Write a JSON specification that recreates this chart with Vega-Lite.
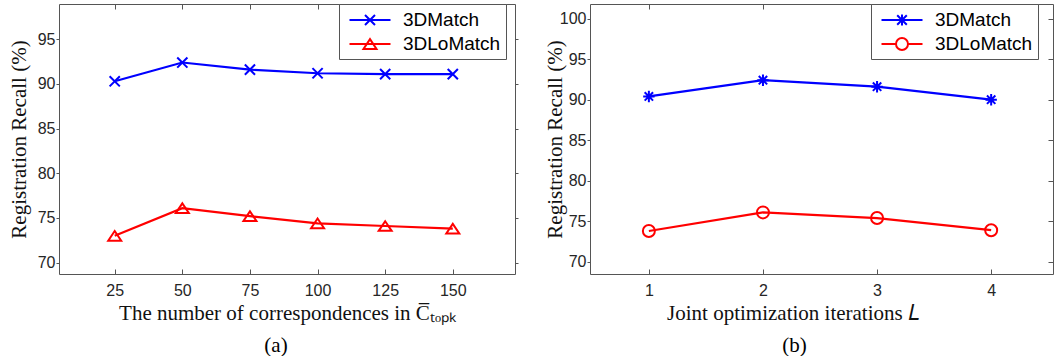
{
  "$schema": "https://vega.github.io/schema/vega-lite/v6.json",
  "background": "white",
  "padding": {"left": 8, "top": 3, "right": 0, "bottom": 0},
  "spacing": 25,
  "resolve": {"scale": {"color": "independent"}, "legend": {"color": "independent"}},
  "datasets": {
    "a": [
      {"x": 25, "series": "3DMatch", "y": 90.3},
      {"x": 50, "series": "3DMatch", "y": 92.4},
      {"x": 75, "series": "3DMatch", "y": 91.6},
      {"x": 100, "series": "3DMatch", "y": 91.2},
      {"x": 125, "series": "3DMatch", "y": 91.1},
      {"x": 150, "series": "3DMatch", "y": 91.1},
      {"x": 25, "series": "3DLoMatch", "y": 73.0},
      {"x": 50, "series": "3DLoMatch", "y": 76.1},
      {"x": 75, "series": "3DLoMatch", "y": 75.2},
      {"x": 100, "series": "3DLoMatch", "y": 74.4},
      {"x": 125, "series": "3DLoMatch", "y": 74.1},
      {"x": 150, "series": "3DLoMatch", "y": 73.8}
    ],
    "b": [
      {"x": 1, "series": "3DMatch", "y": 90.4},
      {"x": 2, "series": "3DMatch", "y": 92.4},
      {"x": 3, "series": "3DMatch", "y": 91.6},
      {"x": 4, "series": "3DMatch", "y": 90.0},
      {"x": 1, "series": "3DLoMatch", "y": 73.8},
      {"x": 2, "series": "3DLoMatch", "y": 76.1},
      {"x": 3, "series": "3DLoMatch", "y": 75.4},
      {"x": 4, "series": "3DLoMatch", "y": 73.9}
    ]
  },
  "hconcat": [
    {
      "width": 456,
      "height": 270,
      "title": {"text": "(a)", "orient": "bottom", "font": "Liberation Serif", "fontSize": 21, "fontWeight": "normal", "color": "black", "offset": 12, "dx": -11},
      "data": {"name": "a"},
      "layer": [
        {
          "layer": [
            {
              "mark": {"type": "line", "strokeWidth": 2.2},
              "encoding": {
                "x": {"field": "x", "type": "quantitative", "scale": {"domain": [4.4, 173], "nice": false, "zero": false},
                  "axis": {"orient": "bottom", "values": [25, 50, 75, 100, 125, 150], "tickSize": -5, "labelPadding": 13, "title": "The number of correspondences in C̅ₜₒₚₖ", "titlePadding": 4}},
                "y": {"field": "y", "type": "quantitative", "scale": {"domain": [68.73, 98.95], "nice": false, "zero": false},
                  "axis": {"orient": "left", "values": [70, 75, 80, 85, 90, 95], "tickSize": 3, "labelPadding": 1, "title": "Registration Recall (%)", "titlePadding": 8}},
                "color": {"field": "series", "type": "nominal", "scale": {"domain": ["3DMatch", "3DLoMatch"], "range": ["#0000ff", "#ff0000"]},
                  "legend": {"orient": "none", "legendX": 280, "legendY": 0, "title": null, "direction": "vertical", "fillColor": "white", "strokeColor": "#555", "padding": 5, "symbolSize": 400, "symbolStrokeWidth": 2, "symbolOffset": 15, "labelFont": "Liberation Sans", "labelFontSize": 19, "labelColor": "black", "labelOffset": 22, "rowPadding": 3,
                    "encode": {"symbols": {"update": {"shape": {"signal": "datum.value === '3DMatch' ? 'M-2.05,0H2.05M-0.5,-0.5L0.5,0.5M-0.5,0.5L0.5,-0.5' : 'M-2.05,0H2.05M0,-0.49L0.65,0.49L-0.65,0.49Z'"}, "fill": {"value": "transparent"}}}}}}
              }
            },
            {
              "transform": [{"filter": "datum.series === '3DMatch'"}],
              "mark": {"type": "point", "filled": false, "strokeWidth": 2, "opacity": 1, "size": 144, "shape": "M-0.85,-0.85L0.85,0.85M-0.85,0.85L0.85,-0.85"},
              "encoding": {
                "x": {"field": "x", "type": "quantitative"},
                "y": {"field": "y", "type": "quantitative"},
                "color": {"field": "series", "type": "nominal"}
              }
            },
            {
              "transform": [{"filter": "datum.series === '3DLoMatch'"}],
              "mark": {"type": "point", "filled": false, "strokeWidth": 2, "opacity": 1, "size": 144, "shape": "M0,-0.8L1.08,0.8L-1.08,0.8Z"},
              "encoding": {
                "x": {"field": "x", "type": "quantitative"},
                "y": {"field": "y", "type": "quantitative"},
                "color": {"field": "series", "type": "nominal"}
              }
            }
          ]
        },
        {
          "mark": {"type": "point", "opacity": 0},
          "encoding": {
            "x": {"field": "x", "type": "quantitative", "scale": {"domain": [4.4, 173], "nice": false, "zero": false},
              "axis": {"orient": "top", "values": [25, 50, 75, 100, 125, 150], "labels": false, "tickSize": -5, "title": null}},
            "y": {"field": "y", "type": "quantitative", "scale": {"domain": [68.73, 98.95], "nice": false, "zero": false},
              "axis": {"orient": "right", "values": [70, 75, 80, 85, 90, 95], "labels": false, "tickSize": 3, "title": null}}
          }
        }
      ],
      "resolve": {"scale": {"x": "independent", "y": "independent"}}
    },
    {
      "width": 463,
      "height": 270,
      "title": {"text": "(b)", "orient": "bottom", "font": "Liberation Serif", "fontSize": 21, "fontWeight": "normal", "color": "black", "offset": 12, "dx": -27},
      "data": {"name": "b"},
      "layer": [
        {
          "layer": [
            {
              "mark": {"type": "line", "strokeWidth": 2.2},
              "encoding": {
                "x": {"field": "x", "type": "quantitative", "scale": {"domain": [0.484, 4.542], "nice": false, "zero": false},
                  "axis": {"orient": "bottom", "values": [1, 2, 3, 4], "format": "d", "tickSize": -5, "labelPadding": 13, "title": "Joint optimization iterations 𝐿", "titlePadding": 4, "titleX": 203}},
                "y": {"field": "y", "type": "quantitative", "scale": {"domain": [68.5, 101.8], "nice": false, "zero": false},
                  "axis": {"orient": "left", "values": [70, 75, 80, 85, 90, 95, 100], "tickSize": 3, "labelPadding": 1, "title": "Registration Recall (%)", "titlePadding": -6}},
                "color": {"field": "series", "type": "nominal", "scale": {"domain": ["3DMatch", "3DLoMatch"], "range": ["#0000ff", "#ff0000"]},
                  "legend": {"orient": "none", "legendX": 281, "legendY": 0, "title": null, "direction": "vertical", "fillColor": "white", "strokeColor": "#555", "padding": 5, "symbolSize": 400, "symbolStrokeWidth": 2, "symbolOffset": 15, "labelFont": "Liberation Sans", "labelFontSize": 19, "labelColor": "black", "labelOffset": 22, "rowPadding": 3,
                    "encode": {"symbols": {"update": {"shape": {"signal": "datum.value === '3DMatch' ? 'M-2.05,0H2.05M0,-0.55V0.55M-0.48,-0.48L0.48,0.48M-0.48,0.48L0.48,-0.48' : 'M-2.05,0H-0.6M0.6,0H2.05M0.6,0A0.6,0.6 0 1,1 -0.6,0A0.6,0.6 0 1,1 0.6,0'"}, "fill": {"value": "transparent"}}}}}}
              }
            },
            {
              "transform": [{"filter": "datum.series === '3DMatch'"}],
              "mark": {"type": "point", "filled": false, "strokeWidth": 2, "opacity": 1, "size": 144, "shape": "M0,-0.95V0.95M-0.95,0H0.95M-0.7,-0.7L0.7,0.7M-0.7,0.7L0.7,-0.7"},
              "encoding": {
                "x": {"field": "x", "type": "quantitative"},
                "y": {"field": "y", "type": "quantitative"},
                "color": {"field": "series", "type": "nominal"}
              }
            },
            {
              "transform": [{"filter": "datum.series === '3DLoMatch'"}],
              "mark": {"type": "point", "filled": false, "strokeWidth": 2, "opacity": 1, "size": 144, "shape": "circle"},
              "encoding": {
                "x": {"field": "x", "type": "quantitative"},
                "y": {"field": "y", "type": "quantitative"},
                "color": {"field": "series", "type": "nominal"}
              }
            }
          ]
        },
        {
          "mark": {"type": "point", "opacity": 0},
          "encoding": {
            "x": {"field": "x", "type": "quantitative", "scale": {"domain": [0.484, 4.542], "nice": false, "zero": false},
              "axis": {"orient": "top", "values": [1, 2, 3, 4], "labels": false, "tickSize": -5, "title": null}},
            "y": {"field": "y", "type": "quantitative", "scale": {"domain": [68.5, 101.8], "nice": false, "zero": false},
              "axis": {"orient": "right", "values": [70, 75, 80, 85, 90, 95, 100], "labels": false, "tickSize": -5, "title": null}}
          }
        }
      ],
      "resolve": {"scale": {"x": "independent", "y": "independent"}}
    }
  ],
  "config": {
    "view": {"stroke": null},
    "axis": {"grid": false, "domain": true, "domainColor": "#555", "tickColor": "#555", "labelFont": "Liberation Sans", "labelFontSize": 16, "labelColor": "#262626", "titleFont": "Liberation Serif", "titleFontSize": 21, "titleFontWeight": "normal", "titleColor": "#111"}
  }
}
